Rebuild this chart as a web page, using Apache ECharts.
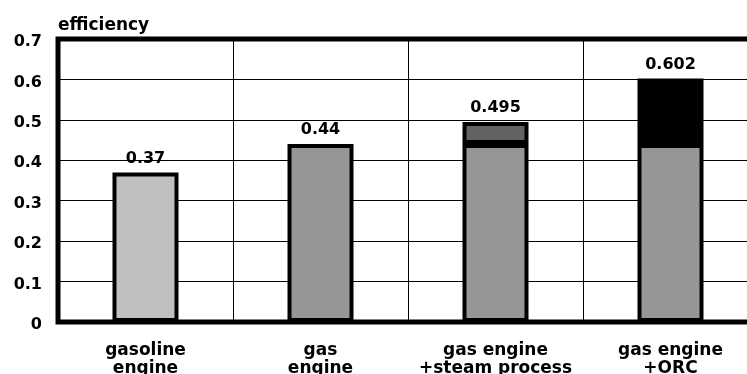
<!DOCTYPE html>
<html>
<head>
<meta charset="utf-8">
<script src="https://cdn.jsdelivr.net/npm/echarts@6/dist/echarts.min.js"></script>
<style>
  html, body { margin: 0; padding: 0; background: #fff; }
  #chart { width: 747px; height: 374px; }
</style>
</head>
<body>
<div id="chart"></div>
<script>
// Efficiency of engine configurations
const categories = ['gasoline\nengine', 'gas\nengine', 'gas engine\n+steam process', 'gas engine\n+ORC'];
const engineEff = [0.37, 0.44, 0.44, 0.44];
const totalEff = [0.37, 0.44, 0.495, 0.602];
const steamGain = ['-', '-', 0.055, '-'];
const orcGain = ['-', '-', '-', 0.162];
const engineColors = ['#c0c0c0', '#969696', '#969696', '#969696'];
const yTicks = [0, 0.1, 0.2, 0.3, 0.4, 0.5, 0.6, 0.7];

const FONT = 'DejaVu Sans';
const chart = echarts.init(document.getElementById('chart'), null, { renderer: 'canvas' });

const topLabel = {
  show: true,
  position: 'top',
  distance: 6,
  color: '#000',
  fontFamily: FONT,
  fontWeight: 'bold',
  fontSize: 16,
  formatter: p => String(totalEff[p.dataIndex])
};

const barStyle = { borderColor: '#000', borderWidth: 4 };

chart.setOption({
  animation: false,
  backgroundColor: '#fff',
  grid: {
    left: 58, top: 39, bottom: 52, right: -11,
    outerBoundsMode: 'none',
    show: true, borderColor: '#000', borderWidth: 5, backgroundColor: 'transparent'
  },
  xAxis: {
    type: 'category',
    data: categories,
    axisLine: { show: false },
    axisTick: { show: false },
    splitLine: { show: true, lineStyle: { color: '#000', width: 1 } },
    axisLabel: {
      interval: 0,
      margin: 20,
      color: '#000',
      fontFamily: FONT,
      fontWeight: 'bold',
      fontSize: 17,
      lineHeight: 18
    }
  },
  yAxis: {
    type: 'value',
    min: yTicks[0],
    max: yTicks[yTicks.length - 1],
    interval: 0.1,
    name: 'efficiency',
    nameLocation: 'end',
    nameGap: 5,
    nameTextStyle: {
      align: 'left',
      verticalAlign: 'bottom',
      color: '#000',
      fontFamily: FONT,
      fontWeight: 'bold',
      fontSize: 17
    },
    axisLine: { show: false },
    axisTick: { show: false },
    splitLine: { show: true, lineStyle: { color: '#000', width: 1 } },
    axisLabel: {
      margin: 16,
      color: '#000',
      formatter: v => '{t|' + (v === 0 ? '0' : v.toFixed(1)) + '}',
      rich: {
        t: {
          color: '#000',
          fontFamily: FONT,
          fontWeight: 'bold',
          fontSize: 16,
          padding: [6, 0, 0, 0]
        }
      }
    }
  },
  series: [
    {
      name: 'engine',
      type: 'bar',
      stack: 'eff',
      barWidth: 66,
      data: engineEff.map((v, i) => ({
        value: v,
        itemStyle: Object.assign({ color: engineColors[i] }, barStyle),
        label: Object.assign({}, topLabel, { show: i < 2 })
      }))
    },
    {
      name: 'steam process',
      type: 'bar',
      stack: 'eff',
      barWidth: 66,
      itemStyle: Object.assign({ color: '#626262' }, barStyle),
      label: topLabel,
      data: steamGain
    },
    {
      name: 'ORC',
      type: 'bar',
      stack: 'eff',
      barWidth: 66,
      itemStyle: Object.assign({ color: '#000' }, barStyle),
      label: topLabel,
      data: orcGain
    }
  ]
});
</script>
</body>
</html>
